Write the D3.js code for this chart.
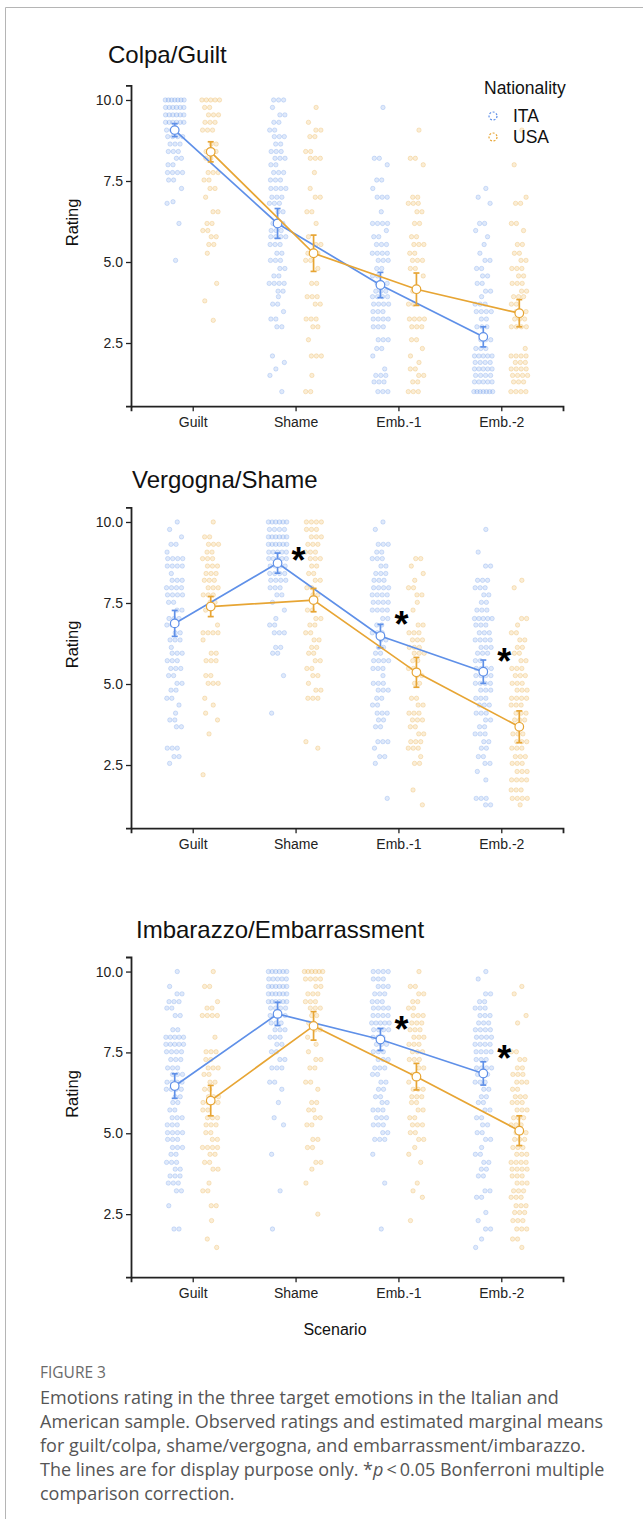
<!DOCTYPE html>
<html>
<head>
<meta charset="utf-8">
<script src="https://cdn.jsdelivr.net/npm/d3@7"></script>
<style>
  body { margin: 0; background: #fff; }
  svg { display: block; }
</style>
</head>
<body>
<script>
// categories
var scenarios = ["Guilt", "Shame", "Emb.-1", "Emb.-2"];
var nationalities = ["ITA", "USA"];
var panelTitles = ["Colpa/Guilt", "Vergogna/Shame", "Imbarazzo/Embarrassment"];
var yTicks = [2.5, 5.0, 7.5, 10.0];

// estimated marginal means, one row per panel, one value per scenario
var meansITA = [[9.07, 6.19, 4.29, 2.69], [6.87, 8.73, 6.48, 5.38], [6.46, 8.69, 7.90, 6.85]];
var meansUSA = [[8.40, 5.27, 4.16, 3.42], [7.39, 7.59, 5.36, 3.68], [6.01, 8.32, 6.75, 5.08]];
// half width of the error bars
var ciITA = [[0.20, 0.46, 0.39, 0.31], [0.40, 0.31, 0.36, 0.36], [0.38, 0.36, 0.34, 0.36]];
var ciUSA = [[0.31, 0.56, 0.50, 0.42], [0.31, 0.36, 0.46, 0.49], [0.47, 0.44, 0.41, 0.46]];
// significance stars: scenario and the rating where the star sits
var sigStars = [
  [],
  [["Shame", 9.05], ["Emb.-1", 7.06], ["Emb.-2", 5.93]],
  [["Emb.-1", 8.45], ["Emb.-2", 7.55]]
];

// observed ratings, [value, how many], per scenario
var colpaITA = [
  [[10,7],[9.77,6],[9.54,6],[9.31,6],[9.07,3],[8.87,4],[8.64,3],[8.41,3],[8.2,2],[8,2],[7.76,4],[7.53,2],[7.27,1],[6.86,1],[6.81,1],[6.19,1],[5.05,1]],
  [[10,3],[9.77,1],[9.54,2],[9.31,2],[9.07,2],[8.87,3],[8.64,2],[8.41,3],[8.2,3],[8,2],[7.76,3],[7.53,3],[7.27,4],[7,3],[6.81,3],[6.55,2],[6.19,3],[5.97,3],[5.78,4],[5.54,3],[5.27,2],[5.05,3],[4.8,2],[4.57,2],[4.34,4],[4.1,2],[3.93,1],[3.7,2],[3.47,1],[3.24,2],[3,2],[2.1,1],[1.9,1],[1.7,1],[1.5,1],[1,1]],
  [[9.77,1],[8.2,2],[8,1],[7.53,2],[7.27,1],[7,3],[6.55,1],[6.19,4],[5.97,1],[5.78,2],[5.54,3],[5.27,4],[5.05,3],[4.8,2],[4.57,2],[4.34,3],[4.1,3],[3.93,4],[3.7,4],[3.47,3],[3.24,4],[3,3],[2.6,3],[2.33,2],[2.1,1],[1.7,1],[1.5,3],[1.3,3],[1,3]],
  [[7.27,1],[7,1],[6.81,1],[6.19,2],[5.97,1],[5.78,1],[5.54,1],[5.27,1],[5.05,2],[4.8,2],[4.57,2],[4.34,2],[4.1,2],[3.93,1],[3.7,3],[3.47,4],[3.24,2],[3,3],[2.6,3],[2.33,3],[2.1,5],[1.9,4],[1.7,5],[1.5,4],[1.3,5],[1,7]]
];
var colpaUSA = [
  [[10,5],[9.77,2],[9.54,3],[9.31,3],[9.07,3],[8.64,2],[8.41,3],[8.2,2],[7.76,3],[7.53,2],[7.27,2],[7,1],[6.55,2],[6.19,2],[5.97,2],[5.78,2],[5.54,2],[5.27,1],[4.34,1],[3.8,1],[3.2,1]],
  [[9.77,1],[9.31,1],[9.07,2],[8.87,2],[8.41,2],[8.2,3],[7.76,1],[7.27,1],[7,2],[6.55,2],[6.19,1],[5.78,1],[5.54,2],[5.27,3],[5.05,2],[4.8,1],[4.34,2],[3.93,3],[3.7,2],[3.24,3],[3,2],[2.6,1],[2.1,3],[1.5,1],[1,2]],
  [[9.07,1],[8.2,2],[8,1],[7,2],[6.81,3],[6.55,2],[6.19,2],[5.78,2],[5.54,3],[5.27,2],[5.05,3],[4.8,2],[4.57,1],[4.1,2],[3.7,2],[3.24,4],[3,3],[2.6,2],[2.33,1],[2.1,1],[1.9,1],[1.7,2],[1.5,2],[1.3,2],[1,3]],
  [[9.07,1],[8,1],[7,1],[6.81,2],[6.19,2],[5.97,1],[5.54,2],[5.27,2],[5.05,2],[4.8,3],[4.57,2],[4.34,3],[4.1,2],[3.93,3],[3.7,2],[3.47,3],[3.24,3],[3,4],[2.33,1],[2.1,4],[1.9,3],[1.7,4],[1.5,4],[1.3,3],[1,4]]
];
var vergognaITA = [
  [[10,1],[9.77,1],[9.54,1],[9.31,2],[9.07,1],[8.87,4],[8.64,4],[8.41,1],[8.2,3],[7.97,4],[7.75,4],[7.52,2],[7.28,2],[7.02,3],[6.82,2],[6.58,2],[6.36,3],[6.13,1],[5.95,3],[5.72,3],[5.48,3],[5.26,2],[5.02,2],[4.81,2],[4.56,2],[4.35,1],[4.1,1],[3.89,2],[3.68,2],[3.02,3],[2.76,2],[2.55,1]],
  [[10,6],[9.77,4],[9.54,6],[9.31,6],[9.07,5],[8.87,5],[8.64,4],[8.41,4],[8.2,4],[7.97,3],[7.75,2],[7.52,1],[7.28,1],[7.02,1],[6.82,2],[6.58,3],[6.13,2],[5.95,2],[5.26,1],[4.1,1]],
  [[10,1],[9.77,1],[9.31,3],[9.07,2],[8.87,3],[8.64,2],[8.41,3],[8.2,3],[7.97,4],[7.75,4],[7.52,4],[7.28,4],[7.02,2],[6.82,2],[6.58,3],[6.36,2],[6.13,2],[5.95,2],[5.72,4],[5.48,3],[5.26,1],[5.02,3],[4.81,3],[4.56,2],[4.35,2],[4.1,3],[3.89,2],[3.68,2],[3.22,3],[3.02,1],[2.76,2],[2.55,1],[1.47,1]],
  [[9.77,1],[9.07,1],[8.64,2],[8.2,3],[7.97,3],[7.75,2],[7.52,2],[7.28,3],[7.02,5],[6.82,3],[6.58,3],[6.36,4],[6.13,3],[5.95,3],[5.72,2],[5.48,4],[5.26,4],[5.02,4],[4.81,3],[4.56,3],[4.35,3],[4.1,3],[3.89,2],[3.68,2],[3.46,3],[3.22,2],[3.02,2],[2.76,2],[2.55,2],[2.3,1],[2.04,1],[1.47,3],[1.27,2]]
];
var vergognaUSA = [
  [[10,1],[9.54,2],[9.31,3],[9.07,2],[8.87,3],[8.64,3],[8.41,3],[8.2,3],[7.97,3],[7.75,3],[7.52,2],[7.28,1],[6.82,1],[6.58,4],[6.36,1],[5.95,2],[5.72,3],[5.26,2],[5.02,3],[4.56,1],[4.35,1],[4.1,1],[3.89,1],[3.46,1],[2.2,1]],
  [[10,4],[9.77,3],[9.54,3],[9.31,3],[9.07,3],[8.87,3],[8.64,2],[8.41,2],[8.2,2],[7.97,2],[7.75,2],[7.28,2],[7.02,2],[6.82,2],[6.58,2],[6.36,2],[6.13,2],[5.95,2],[5.72,2],[5.48,2],[5.26,2],[5.02,1],[4.81,2],[4.56,3],[3.22,1],[3.02,1]],
  [[8.87,2],[8.64,1],[8.41,1],[8.2,1],[7.97,2],[7.75,2],[7.52,1],[7.28,1],[6.82,2],[6.58,3],[6.36,3],[6.13,3],[5.95,3],[5.72,2],[5.48,2],[5.26,2],[5.02,2],[4.56,2],[4.35,2],[4.1,3],[3.89,3],[3.68,2],[3.46,2],[3.22,3],[3.02,3],[2.76,1],[2.55,2],[1.73,1],[1.27,1]],
  [[8.2,1],[7.97,1],[7.02,2],[6.82,1],[6.58,2],[6.36,2],[6.13,2],[5.95,2],[5.72,2],[5.48,3],[5.26,3],[5.02,3],[4.81,3],[4.56,4],[4.35,3],[4.1,3],[3.89,3],[3.46,3],[3.22,3],[3.02,3],[2.76,3],[2.55,3],[2.3,3],[2.04,4],[1.73,3],[1.47,4],[1.27,1]]
];
var imbarazzoITA = [
  [[10,1],[9.54,1],[9.31,2],[9.07,3],[8.87,2],[8.64,2],[8.2,2],[7.97,5],[7.75,5],[7.52,4],[7.28,3],[7.02,3],[6.82,3],[6.58,4],[6.36,4],[6.13,2],[5.95,2],[5.72,2],[5.48,3],[5.26,3],[5.02,4],[4.81,3],[4.56,3],[4.35,2],[4.1,3],[3.89,2],[3.68,3],[3.46,3],[3.22,2],[2.76,1],[2.04,2]],
  [[10,6],[9.77,5],[9.54,6],[9.31,6],[9.07,6],[8.87,4],[8.64,4],[8.41,3],[8.2,3],[7.97,3],[7.75,2],[7.52,2],[7.28,2],[7.02,3],[6.58,2],[6.36,1],[5.95,1],[5.48,1],[5.26,1],[4.35,1],[3.22,1],[2.04,1]],
  [[10,4],[9.77,3],[9.54,3],[9.31,3],[9.07,3],[8.87,4],[8.64,4],[8.41,5],[8.2,4],[7.97,3],[7.75,3],[7.52,3],[7.28,3],[7.02,3],[6.82,2],[6.58,2],[6.36,2],[6.13,2],[5.95,2],[5.72,3],[5.48,3],[5.26,3],[5.02,2],[4.81,3],[4.35,1],[3.46,1],[2.04,1]],
  [[10,1],[9.77,1],[9.31,2],[9.07,2],[8.87,3],[8.64,3],[8.41,3],[8.2,4],[7.97,4],[7.75,4],[7.52,4],[7.28,3],[7.02,4],[6.82,3],[6.58,3],[6.36,2],[6.13,2],[5.95,2],[5.72,2],[5.48,2],[5.26,2],[5.02,2],[4.81,2],[4.56,1],[4.35,2],[4.1,2],[3.89,2],[3.68,2],[3.22,2],[3.02,2],[2.55,1],[2.3,1],[2.04,2],[1.73,1],[1.47,1]]
];
var imbarazzoUSA = [
  [[10,1],[9.54,2],[9.07,1],[8.87,2],[8.64,4],[7.97,1],[7.52,3],[7.28,2],[7.02,3],[6.82,2],[6.58,2],[6.36,2],[6.13,3],[5.95,4],[5.72,2],[5.48,3],[5.26,3],[5.02,2],[4.81,2],[4.56,4],[4.35,2],[4.1,2],[3.89,2],[3.46,1],[3.22,2],[2.76,2],[2.3,1],[1.73,1],[1.47,1]],
  [[10,6],[9.77,4],[9.54,2],[9.31,3],[9.07,3],[8.87,3],[8.64,2],[8.41,2],[8.2,2],[7.97,1],[7.75,1],[7.52,1],[7.28,2],[7.02,2],[6.58,2],[6.36,1],[5.95,2],[5.72,2],[5.48,2],[5.26,2],[4.81,2],[4.56,2],[4.1,2],[3.89,1],[3.46,1],[2.5,1]],
  [[10,1],[9.54,2],[9.31,2],[9.07,2],[8.87,2],[8.64,3],[8.41,3],[8.2,3],[7.97,3],[7.75,3],[7.52,3],[7.28,3],[7.02,2],[6.82,2],[6.58,1],[6.36,3],[6.13,3],[5.95,2],[5.72,2],[5.48,2],[5.26,3],[5.02,2],[4.81,2],[4.56,1],[4.35,1],[4.1,1],[3.46,1],[3.22,1],[3.02,1],[2.3,1]],
  [[9.54,1],[9.31,1],[8.64,1],[8.41,1],[7.52,2],[7.28,2],[7.02,2],[6.82,3],[6.58,3],[6.36,2],[6.13,3],[5.95,3],[5.72,3],[5.48,3],[5.26,3],[5.02,3],[4.81,3],[4.56,3],[4.35,3],[4.1,4],[3.89,4],[3.68,3],[3.46,3],[3.22,3],[3.02,3],[2.76,3],[2.55,3],[2.3,3],[2.04,3],[1.73,2],[1.47,1]]
];

var obsITA = [colpaITA, vergognaITA, imbarazzoITA];
var obsUSA = [colpaUSA, vergognaUSA, imbarazzoUSA];

var captionLines = [
  "Emotions rating in the three target emotions in the Italian and",
  "American sample. Observed ratings and estimated marginal means",
  "for guilt/colpa, shame/vergogna, and embarrassment/imbarazzo."
];

var width = 643,
    height = 1519;

var color = { ITA: "#5f90e8", USA: "#e7a534" };
var dodge = { ITA: -18, USA: 18 };
// where each panel sits on the page
var layout = [
  { titleX: 108, titleY: 63, top: 85.4, bottom: 406.2 },
  { titleX: 132, titleY: 488, top: 507.4, bottom: 828.2 },
  { titleX: 136, titleY: 938, top: 957.0, bottom: 1277.2 }
];
// spread of rows of equal ratings
var jitterShift = [0.3, -0.6, 0.8, -0.2, -0.9, 0.5, 0.1, -0.4, 0.7, -0.7];

var svg = d3.select("body")
  .append("svg")
  .attr("width", width)
  .attr("height", height)
  .style("font-family", "'Liberation Sans', Arial, Helvetica, sans-serif");

svg.append("rect").attr("width", width).attr("height", height).attr("fill", "#fff");

// card frame
svg.append("path")
  .attr("d", "M5.5," + height + " L5.5,7.5 L" + width + ",7.5")
  .attr("fill", "none")
  .attr("stroke", "#b5b5b5")
  .attr("stroke-width", 1);

var x = d3.scalePoint()
  .domain(scenarios)
  .range([131, 563])
  .padding(0.6);

function spreadRows(rows, nat, scen) {
  var pts = [];
  rows.forEach(function (r, i) {
    var n = r[1];
    var w = Math.min(22, 5 * n);
    var start = -w / 2 + jitterShift[i % jitterShift.length] * (22 - w) / 2;
    for (var k = 0; k < n; k++) {
      pts.push({ nat: nat, v: r[0], dx: x(scen) + dodge[nat] + start + (k + 0.5) * w / n });
    }
  });
  return pts;
}

layout.forEach(function (L, p) {
  var g = svg.append("g");

  var y = d3.scaleLinear()
    .domain([0.55, 10.45])
    .range([L.bottom, L.top]);

  g.append("text")
    .attr("x", L.titleX)
    .attr("y", L.titleY)
    .attr("font-size", 24)
    .attr("fill", "#111")
    .text(panelTitles[p]);

  // observed ratings
  var pts = [];
  scenarios.forEach(function (s, j) {
    pts = pts.concat(spreadRows(obsITA[p][j], "ITA", s));
    pts = pts.concat(spreadRows(obsUSA[p][j], "USA", s));
  });
  g.append("g").selectAll("circle")
    .data(pts)
    .enter()
    .append("circle")
    .attr("cx", function (d) { return d.dx; })
    .attr("cy", function (d) { return y(d.v); })
    .attr("r", 2.2)
    .attr("fill", function (d) { return color[d.nat]; })
    .attr("fill-opacity", 0.2)
    .attr("stroke", function (d) { return color[d.nat]; })
    .attr("stroke-opacity", 0.32)
    .attr("stroke-width", 0.8);

  // axes
  var yAxis = g.append("g")
    .attr("transform", "translate(131,0)")
    .call(d3.axisLeft(y).tickValues(yTicks).tickFormat(d3.format(".1f")).tickSizeOuter(0).tickSize(5).tickPadding(3));
  var xAxis = g.append("g")
    .attr("transform", "translate(0," + L.bottom + ")")
    .call(d3.axisBottom(x).tickSizeOuter(0).tickSize(5).tickPadding(6));
  [xAxis, yAxis].forEach(function (a) {
    a.select(".domain").attr("stroke", "#222").attr("stroke-width", 1.8);
    a.selectAll(".tick line").attr("stroke", "#222").attr("stroke-width", 1.3);
    a.selectAll(".tick text")
      .attr("fill", "#222")
      .attr("font-size", 14)
      .attr("font-family", "'Liberation Sans', Arial, sans-serif");
  });

  g.append("text")
    .attr("transform", "translate(78," + (L.top + 137) + ") rotate(-90)")
    .attr("text-anchor", "middle")
    .attr("font-size", 16.5)
    .attr("fill", "#111")
    .text("Rating");

  // means, lines and error bars
  nationalities.forEach(function (nat) {
    var m = nat == "ITA" ? meansITA[p] : meansUSA[p];
    var ci = nat == "ITA" ? ciITA[p] : ciUSA[p];
    var rows = scenarios.map(function (s, j) { return { s: s, m: m[j], ci: ci[j] }; });
    var cx = function (d) { return x(d.s) + dodge[nat]; };

    g.append("path")
      .datum(rows)
      .attr("fill", "none")
      .attr("stroke", color[nat])
      .attr("stroke-width", 1.7)
      .attr("d", d3.line().x(cx).y(function (d) { return y(d.m); }));

    var eb = g.append("g").selectAll("g")
      .data(rows)
      .enter()
      .append("g")
      .attr("stroke", color[nat])
      .attr("stroke-width", 1.7);
    eb.append("line")
      .attr("x1", cx).attr("x2", cx)
      .attr("y1", function (d) { return y(d.m - d.ci); })
      .attr("y2", function (d) { return y(d.m + d.ci); });
    [-1, 1].forEach(function (sign) {
      eb.append("line")
        .attr("x1", function (d) { return cx(d) - 3; })
        .attr("x2", function (d) { return cx(d) + 3; })
        .attr("y1", function (d) { return y(d.m + sign * d.ci); })
        .attr("y2", function (d) { return y(d.m + sign * d.ci); });
    });

    g.append("g").selectAll("circle")
      .data(rows)
      .enter()
      .append("circle")
      .attr("cx", cx)
      .attr("cy", function (d) { return y(d.m); })
      .attr("r", 4.3)
      .attr("fill", "#fff")
      .attr("stroke", color[nat])
      .attr("stroke-width", 1.2);
  });

  g.selectAll("text.star")
    .data(sigStars[p])
    .enter()
    .append("text")
    .attr("class", "star")
    .attr("x", function (d) { return x(d[0]) + 3; })
    .attr("y", function (d) { return y(d[1]) + 20; })
    .attr("text-anchor", "middle")
    .attr("font-size", 36)
    .attr("font-weight", "bold")
    .attr("fill", "#000")
    .text("*");
});

// legend
var legend = svg.append("g");
legend.append("text")
  .attr("x", 484).attr("y", 94)
  .attr("font-size", 17.5).attr("fill", "#111")
  .text("Nationality");
nationalities.forEach(function (nat, i) {
  legend.append("circle")
    .attr("cx", 493).attr("cy", 116 + i * 21)
    .attr("r", 4)
    .attr("fill", "#fff")
    .attr("stroke", color[nat])
    .attr("stroke-width", 1.2)
    .attr("stroke-dasharray", "2,1.6");
  legend.append("text")
    .attr("x", 513).attr("y", 122 + i * 21)
    .attr("font-size", 17.5).attr("fill", "#111")
    .text(nat);
});

svg.append("text")
  .attr("x", 335).attr("y", 1335)
  .attr("text-anchor", "middle")
  .attr("font-size", 16).attr("fill", "#111")
  .text("Scenario");

// caption
var cap = svg.append("g")
  .style("font-family", "'Open Sans', 'Noto Sans', sans-serif");
cap.append("text")
  .attr("x", 40).attr("y", 1378)
  .attr("font-size", 15.5).attr("fill", "#6a6a6a")
  .text("FIGURE 3");
captionLines.forEach(function (t, i) {
  cap.append("text")
    .attr("x", 40).attr("y", 1404 + i * 24)
    .attr("font-size", 18).attr("fill", "#555")
    .text(t);
});
var l4 = cap.append("text")
  .attr("x", 40).attr("y", 1404 + 3 * 24)
  .attr("font-size", 18).attr("fill", "#555");
l4.append("tspan").text("The lines are for display purpose only. *");
l4.append("tspan").attr("font-style", "italic").text("p");
l4.append("tspan").text("\u2009<\u20090.05 Bonferroni multiple");
cap.append("text")
  .attr("x", 40).attr("y", 1404 + 4 * 24)
  .attr("font-size", 18).attr("fill", "#555")
  .text("comparison correction.");
</script>
</body>
</html>
